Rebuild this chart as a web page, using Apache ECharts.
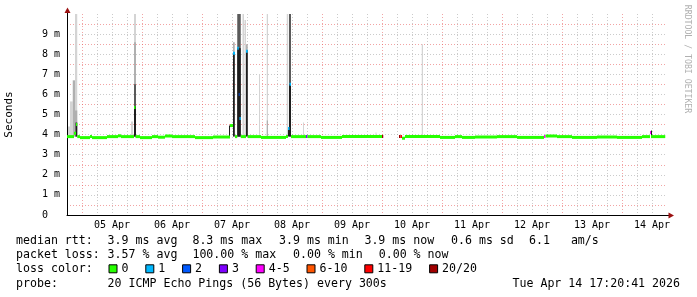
<!DOCTYPE html>
<html><head><meta charset="utf-8">
<script src="https://cdn.jsdelivr.net/npm/echarts@6/dist/echarts.min.js"></script>
<style>html,body{margin:0;padding:0;background:#fff}#c{width:697px;height:297px}</style>
</head><body><div id="c"></div>
<script>
// x values are hours counted from 05 Apr 00:00
const dayLabels = ['05 Apr','06 Apr','07 Apr','08 Apr','09 Apr','10 Apr','11 Apr','12 Apr','13 Apr','14 Apr'];
const lossLabels = ['0','1','2','3','4-5','6-10','11-19','20/20'];
const lossColors = ['#26ff00','#00b8ff','#0059ff','#7e00ff','#ff00ff','#ff5500','#ff0000','#a10000'];
const lossUpper  = [0,1,2,3,5,10,19,20];

// median rtt steps: [startHour, endHour, median ms, lost pings of 20]
const medianSteps = [
  [-6,-3.2,3.90,0],[-3.2,-2.4,4.07,0],[-2.4,-1.9,4.50,0],[-1.9,-0.8,3.90,0],
  [-0.8,3.2,3.85,0],[3.2,4.0,3.90,0],[4.0,10.0,3.85,0],[10.0,14.4,3.90,0],
  [14.4,15.6,3.94,0],[15.6,20.8,3.90,0],[20.8,21.4,5.35,0],[21.4,23.2,3.90,0],
  [23.2,28.0,3.85,0],[28.0,30.4,3.90,0],[30.4,33.2,3.87,0],[33.2,36.0,3.93,0],
  [36.0,45.2,3.90,0],[45.2,52.4,3.85,0],[52.4,59.2,3.88,0],[59.2,60.4,4.45,0],
  [60.4,61.2,8.05,1],[61.2,62.1,3.90,0],[62.1,62.7,8.30,1],[62.7,63.0,6.00,2],
  [63.0,63.5,4.80,1],[63.5,65.6,3.90,0],[65.6,66.3,8.15,1],[66.3,71.6,3.90,0],
  [71.6,81.6,3.86,0],[81.6,82.4,3.90,0],[82.4,83.0,4.30,1],[83.0,83.6,6.50,1],
  [83.6,89.6,3.90,0],[89.6,90.2,3.90,3],[90.2,95.6,3.90,0],[95.6,104.0,3.86,0],
  [104.0,120.0,3.90,0],[120.0,120.5,3.90,20],
  [126.8,127.4,3.90,20],[127.4,128.0,3.90,15],[128.0,129.2,3.82,0],[129.2,143.2,3.90,0],
  [143.2,149.2,3.86,0],[149.2,152.0,3.90,0],[152.0,157.2,3.86,0],[157.2,166.0,3.88,0],
  [166.0,174.0,3.90,0],[174.0,184.8,3.86,0],[184.8,185.4,3.90,4],[185.4,190.0,3.93,0],
  [190.0,196.0,3.90,0],[196.0,206.0,3.86,0],[206.0,214.0,3.88,0],[214.0,224.0,3.86,0],
  [224.0,227.2,3.90,0],[227.2,227.6,4.10,4],[227.6,233.3,3.90,0]
];

// ping spread (smoke): [startHour, endHour, low ms, high ms, density 0..3]
const smokeBands = [
  [-5.6,-4.8,3.9,4.4,0],[-4.8,-3.7,3.9,5.65,0],[-3.7,-2.8,3.9,6.7,1],
  [-2.8,-1.9,3.9,10,0],[-2.8,-1.9,3.9,5.2,1],[-2.6,-1.9,3.9,4.6,3],
  [19.6,20.4,3.9,4.65,0],[20.8,21.6,3.9,10,0],[20.8,21.6,3.9,8.6,1],
  [20.8,21.6,3.9,6.5,2],[20.8,21.6,3.9,5.4,3],
  [58.8,59.2,3.9,4.45,3],[60.4,61.1,3.9,8.6,1],[60.4,61.1,3.9,8.1,3],
  [62.1,63.5,3.9,10,2],[62.1,63.5,3.9,8.3,3],[64.2,64.8,3.9,10,0],
  [65.0,65.6,3.9,9.7,0],[65.6,66.3,3.9,8.5,1],[65.6,66.3,3.9,8.2,3],
  [70.8,71.2,3.9,7.0,0],[73.9,74.4,3.9,10,0],[73.9,74.4,3.9,4.7,1],
  [81.9,82.5,3.9,10,0],[82.4,82.8,3.9,4.35,3],[82.8,83.6,3.9,10,2],
  [82.8,83.6,3.9,6.5,3],[88.4,88.8,3.9,4.6,0],[117.4,117.8,3.9,4.1,0],
  [135.9,136.4,3.9,8.5,0],[227.6,228.0,3.9,4.2,3]
];
const smokeShades = ['#d4d4d4','#b0b0b0','#5a5a5a','#1e1e1e'];

const rttStats  = ['median rtt:','3.9 ms avg','8.3 ms max','3.9 ms min','3.9 ms now','0.6 ms sd','6.1   am/s'];
const lossStats = ['packet loss:','3.57 % avg','100.00 % max','0.00 % min','0.00 % now'];
const probeText = ['probe:','20 ICMP Echo Pings (56 Bytes) every 300s'];
const stampText = 'Tue Apr 14 17:20:41 2026';

// ---- layout ----
const MONO = '"DejaVu Sans Mono", monospace';
const LF = '11.6px ' + MONO;
const row1X = [16,107.6,192.4,279,364.4,451,529];
const row2X = [16,107.6,192.4,293,378.7];
const rowY = [240.5,255,269.3,283.8];

function lossBucket(n){ for (let i=0;i<lossUpper.length;i++) if (n<=lossUpper[i]) return i; return lossUpper.length-1; }

const graphics = [];
rttStats.forEach((t,i)=>graphics.push({type:'text',style:{text:t,x:row1X[i],y:rowY[0],font:LF,fill:'#000',verticalAlign:'middle'}}));
lossStats.forEach((t,i)=>graphics.push({type:'text',style:{text:t,x:row2X[i],y:rowY[1],font:LF,fill:'#000',verticalAlign:'middle'}}));
graphics.push({type:'text',style:{text:'loss color:',x:16,y:rowY[2],font:LF,fill:'#000',verticalAlign:'middle'}});
let bx = 108.5;
lossLabels.forEach((t,i)=>{
  graphics.push({type:'rect',shape:{x:bx+0.5,y:rowY[2]-4.5,width:8,height:8},style:{fill:lossColors[i],stroke:'#000',lineWidth:1}});
  graphics.push({type:'text',style:{text:t,x:bx+13,y:rowY[2],font:LF,fill:'#000',verticalAlign:'middle'}});
  bx += 13 + 7*t.length + 16.8;
});
graphics.push({type:'text',style:{text:probeText[0],x:16,y:rowY[3],font:LF,fill:'#000',verticalAlign:'middle'}});
graphics.push({type:'text',style:{text:probeText[1],x:107.6,y:rowY[3],font:LF,fill:'#000',verticalAlign:'middle'}});
graphics.push({type:'text',style:{text:stampText,x:680,y:rowY[3],font:LF,fill:'#000',align:'right',verticalAlign:'middle'}});
graphics.push({type:'text',x:687.5,y:59,rotation:-Math.PI/2,style:{text:'RRDTOOL / TOBI OETIKER',x:0,y:0,font:'8.2px '+MONO,fill:'#b0b0b0',align:'center',verticalAlign:'middle'}});
// axis extensions and arrows
graphics.push({type:'line',shape:{x1:67.5,y1:14,x2:67.5,y2:10},style:{stroke:'#000',lineWidth:1}});
graphics.push({type:'line',shape:{x1:667,y1:215.5,x2:670,y2:215.5},style:{stroke:'#000',lineWidth:1}});
graphics.push({type:'polygon',shape:{points:[[67.5,7.5],[64.5,13],[70.5,13]]},style:{fill:'#9b1010'}});
graphics.push({type:'polygon',shape:{points:[[674,215.5],[668.5,212.5],[668.5,218.5]]},style:{fill:'#9b1010'}});

const RED = 'rgba(232,90,90,0.55)', GREY = 'rgba(140,140,140,0.45)';

const chart = echarts.init(document.getElementById('c'), null, {renderer:'canvas'});
chart.setOption({
  animation:false,
  backgroundColor:'#fff',
  grid:{left:67,right:30,top:14,bottom:82,containLabel:false,outerBoundsMode:'none'},
  xAxis:{
    type:'value',min:-6,max:234,interval:6,
    axisLine:{show:true,onZero:false,lineStyle:{color:'#000',width:1}},
    axisTick:{show:false},
    axisLabel:{
      color:'#000',fontFamily:MONO,fontSize:10,margin:5,
      formatter:v=>{const d=Math.round(v); if(((d%24)+24)%24===12){return dayLabels[(d-12)/24]||'';} return '';}
    },
    splitLine:{show:true,showMinLine:false,showMaxLine:false,lineStyle:{color:[RED,GREY,GREY,GREY],type:[1,2],width:1}}
  },
  yAxis:{
    type:'value',min:0,max:10,interval:0.5,
    name:'Seconds',nameLocation:'middle',nameGap:52,nameRotate:90,
    nameTextStyle:{color:'#000',fontFamily:MONO,fontSize:11},
    axisLine:{show:true,onZero:false,lineStyle:{color:'#000',width:1}},
    axisTick:{show:false},
    axisLabel:{
      color:'#000',fontFamily:MONO,fontSize:10,margin:7,
      formatter:v=>(Number.isInteger(v)&&v<10)?(v===0?'0  ':v+' m'):''
    },
    splitLine:{show:true,showMinLine:false,showMaxLine:false,lineStyle:{color:[RED,GREY],type:[1,2],width:1}}
  },
  series:[
    {
      type:'custom',name:'smoke',silent:true,
      encode:{x:[0,1],y:[2,3]},
      data:smokeBands,
      renderItem:(params,api)=>{
        const a=api.coord([api.value(0),api.value(3)]);
        const b=api.coord([api.value(1),api.value(2)]);
        return {type:'rect',shape:{x:a[0],y:a[1],width:b[0]-a[0],height:b[1]-a[1]},style:{fill:smokeShades[api.value(4)]}};
      }
    },
    {
      type:'custom',name:'median rtt',silent:true,
      encode:{x:[0,1],y:2},
      data:medianSteps,
      renderItem:(params,api)=>{
        const a=api.coord([api.value(0),api.value(2)]);
        const b=api.coord([api.value(1),api.value(2)]);
        return {type:'rect',shape:{x:a[0],y:a[1]-1.5,width:b[0]-a[0],height:3},style:{fill:lossColors[lossBucket(api.value(3))]}};
      }
    }
  ],
  graphic:graphics
});
</script></body></html>
